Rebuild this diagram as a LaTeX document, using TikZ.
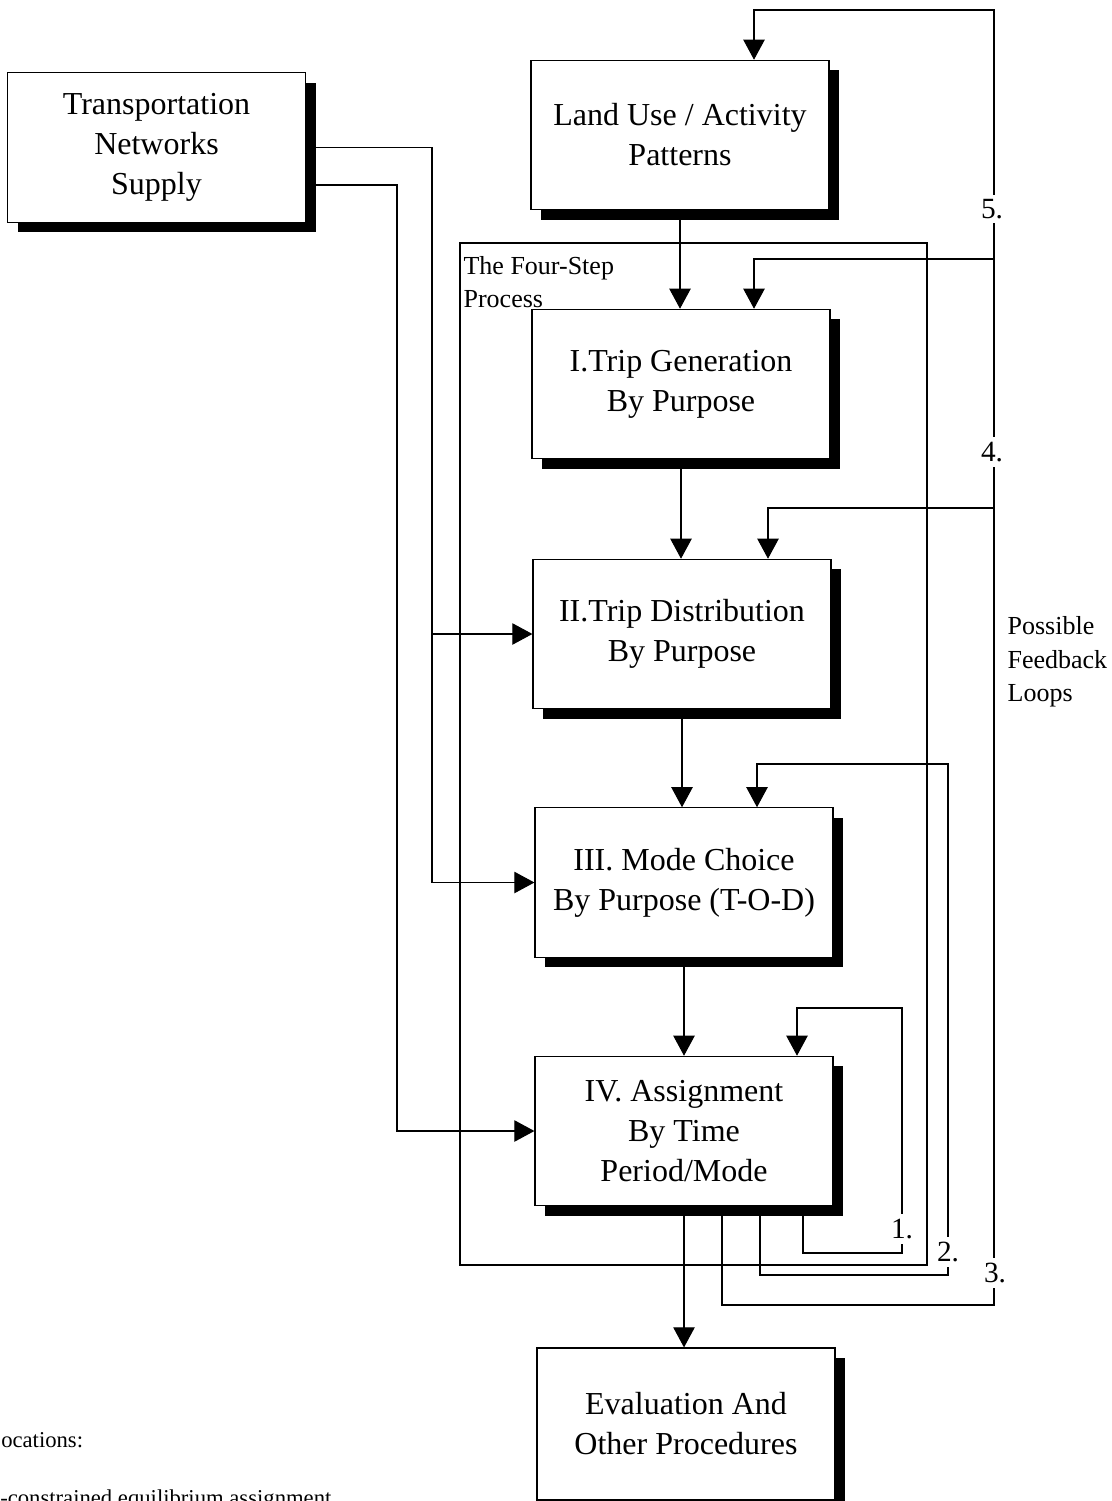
\documentclass[tikz,border=0pt]{standalone}
\usepackage{fontspec}
\setmainfont{Liberation Serif}
\usetikzlibrary{arrows.meta,shadows}
\tikzset{
  stepbox/.style={draw, line width=0.9pt, fill=white, minimum width=223.5pt,
    minimum height=112pt, align=center, inner sep=2pt,
    font=\fontsize{24}{30}\selectfont,
    general shadow={fill=black, shadow xshift=7.5pt, shadow yshift=-7.5pt}},
  conn/.style={line width=0.8pt},
  arr/.style={conn, -{Triangle[length=15pt,width=16pt]}},
  lbl/.style={font=\fontsize{19.5}{25}\selectfont, inner sep=1pt},
  looplbl/.style={font=\fontsize{22}{26}\selectfont, fill=white, inner xsep=1pt, inner ysep=3.5pt},
  smalltext/.style={font=\fontsize{17}{21}\selectfont, inner sep=0pt},
}
\begin{document}
\begin{tikzpicture}[x=0.75pt,y=-0.75pt]
\useasboundingbox (0,0) rectangle (1111,1501);
\clip (0,0) rectangle (1111,1501);

% four-step process frame
\node[draw, conn, minimum width=350.25pt, minimum height=766.5pt, inner sep=0pt] (four) at (693.5,754) {};

% boxes
\node[stepbox] (trans) at (156.5,147.5) {Transportation\\Networks\\Supply};
\node[stepbox] (land) at (680,135) {Land Use / Activity\\Patterns};
\node[stepbox] (gen) at (681,384) {I.Trip Generation\\By Purpose};
\node[stepbox] (dist) at (682,634) {II.Trip Distribution\\By Purpose};
\node[stepbox] (mode) at (684,882.5) {III. Mode Choice\\By Purpose (T-O-D)};
\node[stepbox] (assign) at (684,1131) {IV. Assignment\\By Time\\Period/Mode};
\node[stepbox, minimum height=114pt] (eval) at (686,1424) {Evaluation And\\Other Procedures};

% texts
\node[lbl, anchor=north west, align=left] (fstitle) at (462,255) {The Four-Step\\Process};
\node[lbl, anchor=west, align=left] (pfl) at (1006,662) {Possible\\Feedback\\Loops};
\node[smalltext, anchor=base west] (loc) at (1,1447) {ocations:};
\node[smalltext, anchor=base west] (cons) at (0,1505) {-constrained equilibrium assignment};

% main flow
\draw[arr] (land.south) -- (land.south |- gen.north);
\draw[arr] (gen.south) -- (gen.south |- dist.north);
\draw[arr] (dist.south) -- (dist.south |- mode.north);
\draw[arr] (mode.south) -- (mode.south |- assign.north);
\draw[arr] (assign.south) -- (assign.south |- eval.north);

% supply connectors
\coordinate (sA) at (432,147.5);
\coordinate (sAb) at (432,634);
\coordinate (sB) at (397,185);
\draw[arr] (trans.east) -- (sA) |- (mode.west);
\draw[arr] (sAb) -- (dist.west);
\draw[arr] (trans.east |- sB) -- (sB) |- (assign.west);

% feedback loops
\coordinate (l1a) at (803,1253);
\coordinate (l1b) at (902,1008);
\coordinate (l1c) at (797,1008);
\draw[arr] (assign.south -| l1a) -- (l1a) -| (l1b) -- (l1c) -- (l1c |- assign.north);

\coordinate (l2a) at (760,1275);
\coordinate (l2b) at (948,764);
\coordinate (l2c) at (757,764);
\draw[arr] (assign.south -| l2a) -- (l2a) -| (l2b) -- (l2c) -- (l2c |- mode.north);

\coordinate (l3a) at (722,1305);
\coordinate (l3b) at (994,508);
\coordinate (l3c) at (768,508);
\draw[arr] (assign.south -| l3a) -- (l3a) -| (l3b) -- (l3c) -- (l3c |- dist.north);

\coordinate (l4b) at (994,259);
\coordinate (l4c) at (754,259);
\draw[arr] (assign.south -| l3a) -- (l3a) -| (l4b) -- (l4c) -- (l4c |- gen.north);

\coordinate (l5b) at (994,10);
\coordinate (l5c) at (754,10);
\draw[arr] (assign.south -| l3a) -- (l3a) -| (l5b) -- (l5c) -- (l5c |- land.north);

% loop labels
\node[looplbl] (n1) at (902,1229) {1.};
\node[looplbl] (n2) at (948,1252) {2.};
\node[looplbl] (n3) at (995,1273) {3.};
\node[looplbl] (n4) at (992,452) {4.};
\node[looplbl] (n5) at (992,209) {5.};
\end{tikzpicture}
\end{document}
